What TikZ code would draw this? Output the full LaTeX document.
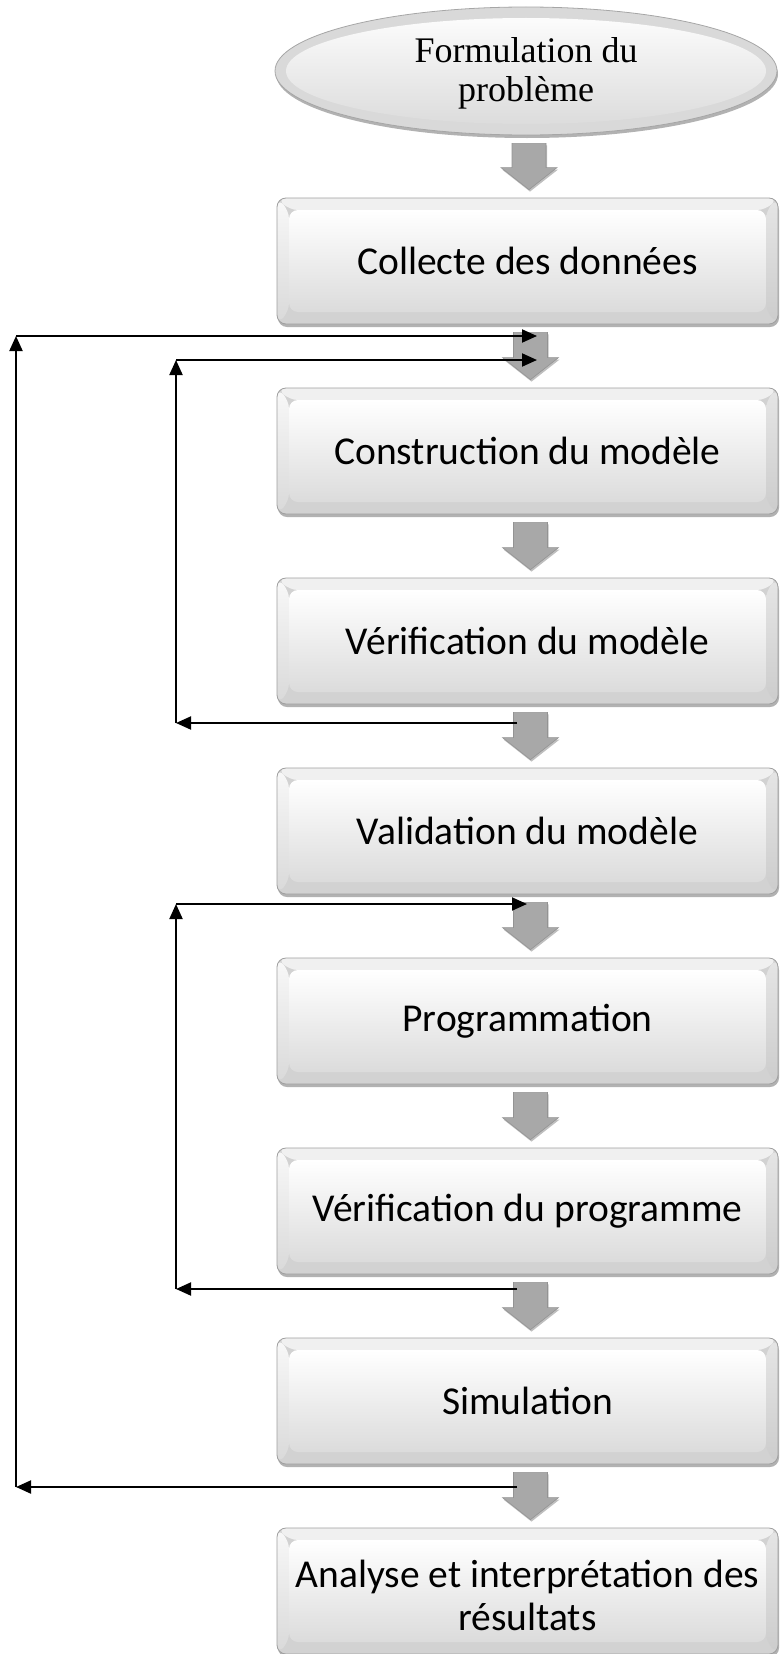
\documentclass[tikz,border=0pt]{standalone}
\usepackage{fontspec}
\setmainfont{Carlito}
\newfontfamily\serifface{Liberation Serif}
\usetikzlibrary{calc,shadows,arrows.meta,shapes.geometric}
\begin{document}
\begin{tikzpicture}[x=1pt,y=-1pt,
  stepbox/.style={rectangle, rounded corners=9pt, minimum width=501pt, minimum height=126pt,
    inner sep=0pt, draw=gray!75, line width=0.8pt, fill=gray!35,
    font=\fontsize{39.5}{43}\selectfont, align=center,
    drop shadow={shadow xshift=1pt, shadow yshift=-3pt, opacity=0.3, fill=black},
    path picture={
      \fill[gray!12] (path picture bounding box.north west) -- (path picture bounding box.north east)
        -- ([shift={(-12pt,-12pt)}]path picture bounding box.north east)
        -- ([shift={(12pt,-12pt)}]path picture bounding box.north west) -- cycle;
      \shade[top color=gray!5, bottom color=gray!30] (path picture bounding box.north west)
        -- ([shift={(12pt,-12pt)}]path picture bounding box.north west)
        -- ([shift={(12pt,12pt)}]path picture bounding box.south west)
        -- (path picture bounding box.south west) -- cycle;
      \shade[top color=gray!20, bottom color=gray!40] (path picture bounding box.north east)
        -- ([shift={(-12pt,-12pt)}]path picture bounding box.north east)
        -- ([shift={(-12pt,12pt)}]path picture bounding box.south east)
        -- (path picture bounding box.south east) -- cycle;
      \shade[top color=white, bottom color=gray!28]
        ([shift={(12pt,-12pt)}]path picture bounding box.north west) rectangle
        ([shift={(-12pt,12pt)}]path picture bounding box.south east);
    }},
  boxtext/.style={inner sep=0pt, font=\fontsize{39.5}{43}\selectfont, align=center},
  oval/.style={ellipse, minimum width=502pt, minimum height=128pt, inner sep=0pt,
    draw=gray!70, line width=0.8pt, fill=gray!30,
    drop shadow={shadow xshift=1pt, shadow yshift=-3pt, opacity=0.3, fill=black},
    path picture={\shade[top color=white, bottom color=gray!30]
      (path picture bounding box.center) ellipse [x radius=240pt, y radius=53pt];}},
  ovaltext/.style={inner sep=0pt, align=center, font=\serifface\fontsize{36}{39}\selectfont},
  garrow/.style={fill=gray!68, draw=gray!85, line width=0.6pt,
    drop shadow={shadow xshift=1pt, shadow yshift=-2pt, opacity=0.25, fill=black}},
  loopline/.style={line width=2pt, -{Triangle[length=15pt,width=13pt]}}
]
\newcommand\grayarrow[2]{%
  \draw[garrow] let \p1=($(#1.south)+(3pt,-8pt)$), \p2=($(#2.north)+(3pt,8pt)$) in
    (\x1-17pt,\y1) -- (\x1+17pt,\y1) -- (\x1+17pt,\y2+22pt) -- (\x1+28pt,\y2+22pt)
    -- (\x1,\y2) -- (\x1-28pt,\y2+22pt) -- (\x1-17pt,\y2+22pt) -- cycle;}
\useasboundingbox (0,0) rectangle (779,1654);

\node[oval] (e0) at (526,71) {};
\node[ovaltext] (t0) at (526,73) {Formulation du\\probl\`eme};
\node[stepbox] (b1) at (527.5,261) {Collecte des données};
\node[stepbox] (b2) at (527.5,451) {Construction du modèle};
\node[stepbox] (b3) at (527.5,641) {Vérification du modèle};
\node[stepbox] (b4) at (527.5,831) {Validation du modèle};
\node[stepbox] (b5) at (527.5,1021) {Programmation};
\node[stepbox] (b6) at (527.5,1211) {Vérification du programme};
\node[stepbox] (b7) at (527.5,1401) {Simulation};
\node[stepbox] (b8) at (527.5,1591) {};
\node[boxtext] (t8) at (527.5,1595) {Analyse et interprétation des\\résultats};

\grayarrow{e0}{b1}
\grayarrow{b1}{b2}
\grayarrow{b2}{b3}
\grayarrow{b3}{b4}
\grayarrow{b4}{b5}
\grayarrow{b5}{b6}
\grayarrow{b6}{b7}
\grayarrow{b7}{b8}

% outer loop
\coordinate (ob) at (517,1487);
\coordinate (oc1) at (16,1487);
\coordinate (oc2) at (16,336);
\coordinate (ot) at (537,336);
\draw[loopline] (ob) -- (oc1);
\draw[loopline] (oc1) -- (oc2);
\draw[loopline] (oc2) -- (ot);
% loop 1
\coordinate (l1b) at (517,723);
\coordinate (l1c1) at (176,723);
\coordinate (l1c2) at (176,360);
\coordinate (l1t) at (537,360);
\draw[loopline] (l1b) -- (l1c1);
\draw[loopline] (l1c1) -- (l1c2);
\draw[loopline] (l1c2) -- (l1t);
% loop 2
\coordinate (l2b) at (517,1289);
\coordinate (l2c1) at (176,1289);
\coordinate (l2c2) at (176,904);
\coordinate (l2t) at (527,904);
\draw[loopline] (l2b) -- (l2c1);
\draw[loopline] (l2c1) -- (l2c2);
\draw[loopline] (l2c2) -- (l2t);
\end{tikzpicture}
\end{document}
